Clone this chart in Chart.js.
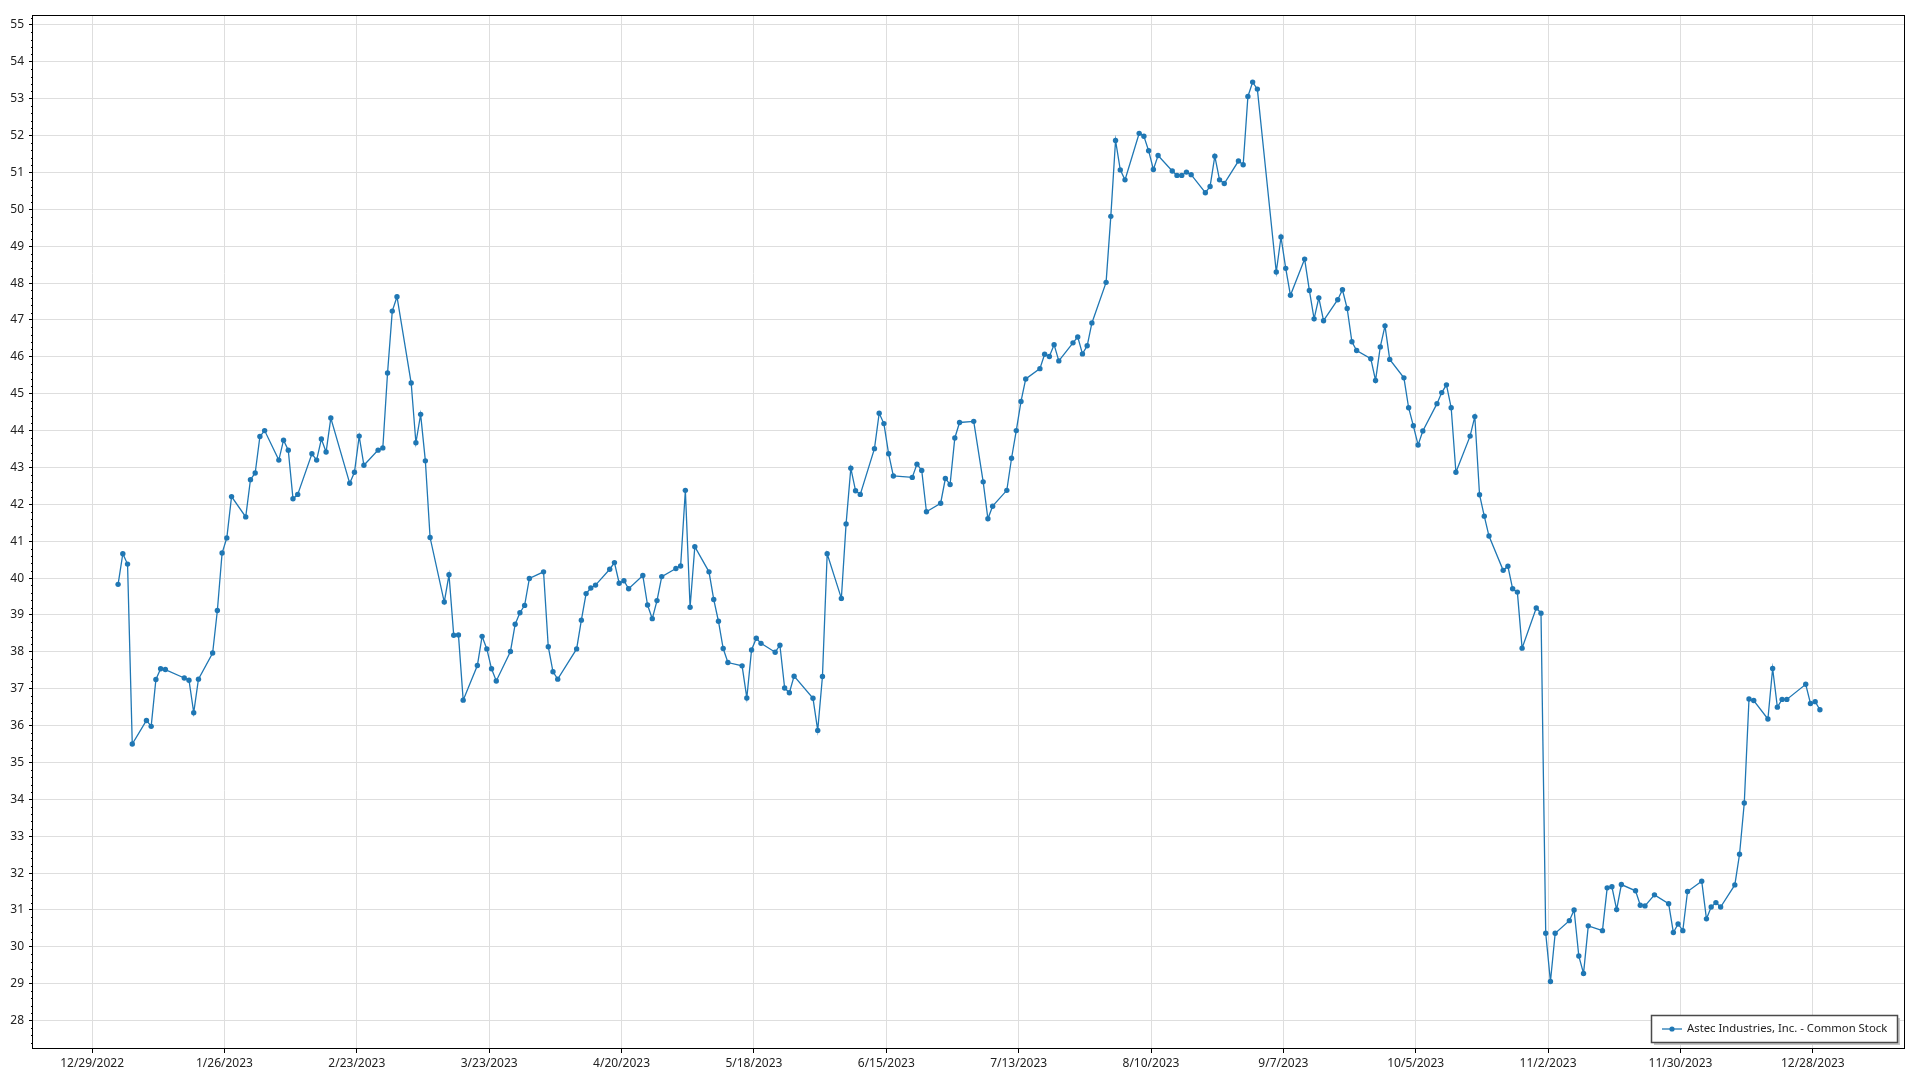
<!DOCTYPE html>
<html>
<head>
<meta charset="utf-8">
<title>Astec Industries, Inc. - Common Stock</title>
<script src="https://cdn.jsdelivr.net/npm/chart.js@4.4.1/dist/chart.umd.min.js"></script>
<style>
  html, body { margin: 0; padding: 0; background: #fff; }
  #wrap { width: 1920px; height: 1080px; position: relative; }
</style>
</head>
<body>
<div id="wrap"><canvas id="chart"></canvas></div>
<script>
const seriesLabel = 'Astec Industries, Inc. - Common Stock';

// trading days of 2023 (MM-DD), one row per month
const tradingDays = [
  '01-03','01-04','01-05','01-06','01-09','01-10','01-11','01-12','01-13','01-17','01-18','01-19','01-20','01-23','01-24','01-25','01-26','01-27','01-30','01-31',
  '02-01','02-02','02-03','02-06','02-07','02-08','02-09','02-10','02-13','02-14','02-15','02-16','02-17','02-21','02-22','02-23','02-24','02-27','02-28',
  '03-01','03-02','03-03','03-06','03-07','03-08','03-09','03-10','03-13','03-14','03-15','03-16','03-17','03-20','03-21','03-22','03-23','03-24','03-27','03-28','03-29','03-30','03-31',
  '04-03','04-04','04-05','04-06','04-10','04-11','04-12','04-13','04-14','04-17','04-18','04-19','04-20','04-21','04-24','04-25','04-26','04-27','04-28',
  '05-01','05-02','05-03','05-04','05-05','05-08','05-09','05-10','05-11','05-12','05-15','05-16','05-17','05-18','05-19','05-22','05-23','05-24','05-25','05-26','05-30','05-31',
  '06-01','06-02','06-05','06-06','06-07','06-08','06-09','06-12','06-13','06-14','06-15','06-16','06-20','06-21','06-22','06-23','06-26','06-27','06-28','06-29','06-30',
  '07-03','07-05','07-06','07-07','07-10','07-11','07-12','07-13','07-14','07-17','07-18','07-19','07-20','07-21','07-24','07-25','07-26','07-27','07-28','07-31',
  '08-01','08-02','08-03','08-04','08-07','08-08','08-09','08-10','08-11','08-14','08-15','08-16','08-17','08-18','08-21','08-22','08-23','08-24','08-25','08-28','08-29','08-30','08-31',
  '09-01','09-05','09-06','09-07','09-08','09-11','09-12','09-13','09-14','09-15','09-18','09-19','09-20','09-21','09-22','09-25','09-26','09-27','09-28','09-29',
  '10-02','10-03','10-04','10-05','10-06','10-09','10-10','10-11','10-12','10-13','10-16','10-17','10-18','10-19','10-20','10-23','10-24','10-25','10-26','10-27','10-30','10-31',
  '11-01','11-02','11-03','11-06','11-07','11-08','11-09','11-10','11-13','11-14','11-15','11-16','11-17','11-20','11-21','11-22','11-24','11-27','11-28','11-29','11-30',
  '12-01','12-04','12-05','12-06','12-07','12-08','12-11','12-12','12-13','12-14','12-15','12-18','12-19','12-20','12-21','12-22','12-26','12-27','12-28','12-29'
];

// closing prices, same order
const closePrices = [
  39.83, 40.66, 40.38, 35.50, 36.14, 35.98, 37.25, 37.54, 37.52, 37.29, 37.23, 36.35, 37.26, 37.97, 39.12, 40.68, 41.09, 42.21, 41.66, 42.67,
  42.85, 43.84, 44.00, 43.20, 43.74, 43.47, 42.15, 42.27, 43.37, 43.20, 43.77, 43.42, 44.34, 42.57, 42.87, 43.85, 43.06, 43.47, 43.53,
  45.56, 47.24, 47.63, 45.29, 43.67, 44.44, 43.18, 41.10, 39.35, 40.09, 38.45, 38.46, 36.69, 37.63, 38.42, 38.08, 37.54, 37.21, 38.01, 38.75, 39.06, 39.26, 39.99,
  40.17, 38.14, 37.46, 37.26, 38.08, 38.86, 39.58, 39.73, 39.81, 40.24, 40.42, 39.86, 39.93, 39.71, 40.07, 39.27, 38.90, 39.39, 40.04,
  40.26, 40.33, 42.38, 39.21, 40.85, 40.17, 39.42, 38.83, 38.09, 37.71, 37.62, 36.75, 38.05, 38.37, 38.23, 37.99, 38.18, 37.02, 36.89, 37.34, 36.74, 35.87,
  37.33, 40.66, 39.45, 41.47, 42.98, 42.37, 42.27, 43.51, 44.47, 44.19, 43.37, 42.77, 42.73, 43.09, 42.92, 41.80, 42.03, 42.70, 42.54, 43.80, 44.22,
  44.25, 42.61, 41.61, 41.95, 42.38, 43.25, 44.00, 44.79, 45.40, 45.68, 46.07, 46.01, 46.33, 45.89, 46.38, 46.54, 46.08, 46.30, 46.92, 48.02,
  49.81, 51.87, 51.07, 50.80, 52.06, 51.98, 51.59, 51.08, 51.46, 51.04, 50.92, 50.92, 51.01, 50.94, 50.45, 50.62, 51.44, 50.80, 50.70, 51.31, 51.21, 53.06, 53.45,
  53.26, 48.30, 49.25, 48.40, 47.67, 48.65, 47.80, 47.03, 47.60, 46.98, 47.55, 47.82, 47.31, 46.41, 46.17, 45.95, 45.36, 46.27, 46.84, 45.93,
  45.43, 44.62, 44.13, 43.61, 43.99, 44.73, 45.03, 45.24, 44.62, 42.87, 43.85, 44.38, 42.26, 41.68, 41.14, 40.21, 40.32, 39.71, 39.62, 38.10, 39.19, 39.05,
  30.37, 29.06, 30.37, 30.71, 31.00, 29.75, 29.28, 30.57, 30.44, 31.60, 31.63, 31.01, 31.69, 31.52, 31.13, 31.11, 31.41, 31.17, 30.39, 30.62, 30.44,
  31.50, 31.78, 30.76, 31.08, 31.20, 31.08, 31.68, 32.51, 33.90, 36.72, 36.68, 36.18, 37.55, 36.50, 36.71, 36.71, 37.12, 36.60, 36.65, 36.43
];

const tickDates = ['2022-12-29', '2023-01-26', '2023-02-23', '2023-03-23', '2023-04-20', '2023-05-18',
  '2023-06-15', '2023-07-13', '2023-08-10', '2023-09-07', '2023-10-05', '2023-11-02', '2023-11-30', '2023-12-28'];

const yMin = 27.23;
const yMax = 55.27;

const DAY = 864e5;
function dayNum(iso) {
  const [y, m, d] = iso.split('-').map(Number);
  return Date.UTC(y, m - 1, d) / DAY;
}
function fmtDay(v) {
  const d = new Date(Math.round(v) * DAY);
  return (d.getUTCMonth() + 1) + '/' + d.getUTCDate() + '/' + d.getUTCFullYear();
}

// quotes are stamped around midday
const points = tradingDays.map((md, i) => ({ x: dayNum('2023-' + md) + 0.5, y: closePrices[i] }));
const tickValues = tickDates.map(dayNum);
const xFirst = points[0].x, xLast = points[points.length - 1].x;
const xPad = (xLast - xFirst) * 0.05;

const lineColor = '#1f77b4';
const font = { family: "'Noto Sans', 'Open Sans', sans-serif", size: 12 };
const legendFont = `11.3px ${font.family}`;

const framePlugin = {
  id: 'frame',
  afterDraw(chart) {
    const { ctx, chartArea: a, scales: { y } } = chart;
    ctx.save();
    ctx.strokeStyle = '#000';
    ctx.lineWidth = 1;
    // minor ticks on the value axis
    ctx.beginPath();
    for (let i = Math.ceil(y.min * 5); i <= Math.floor(y.max * 5); i++) {
      if (i % 5 === 0) continue;
      const py = Math.round(y.getPixelForValue(i / 5)) + 0.5;
      ctx.moveTo(a.left - 2, py);
      ctx.lineTo(a.left, py);
    }
    ctx.stroke();
    // plot frame
    ctx.strokeRect(Math.round(a.left) - 0.5, Math.round(a.top) + 0.5,
      Math.round(a.right) - Math.round(a.left), Math.round(a.bottom) - Math.round(a.top) - 1);

    // legend box, bottom right inside the plot
    ctx.font = legendFont;
    const tw = ctx.measureText(seriesLabel).width;
    const bw = Math.round(tw + 46), bh = 27;
    const bx = Math.round(a.right) - 8 - bw, by = Math.round(a.bottom) - 7 - bh;
    ctx.fillStyle = '#c8c8c8';
    ctx.fillRect(bx + 3, by + 3, bw, bh);
    ctx.fillStyle = '#fff';
    ctx.fillRect(bx, by, bw, bh);
    ctx.strokeStyle = '#4a4a4a';
    ctx.lineWidth = 1.5;
    ctx.strokeRect(bx + 0.5, by + 0.5, bw, bh);
    const my = by + bh / 2 + 0.5;
    ctx.strokeStyle = lineColor;
    ctx.lineWidth = 1.3;
    ctx.beginPath();
    ctx.moveTo(bx + 11, my);
    ctx.lineTo(bx + 31, my);
    ctx.stroke();
    ctx.fillStyle = lineColor;
    ctx.beginPath();
    ctx.arc(bx + 21, my, 2.6, 0, Math.PI * 2);
    ctx.fill();
    ctx.fillStyle = '#222';
    ctx.textBaseline = 'middle';
    ctx.fillText(seriesLabel, bx + 36, my);
    ctx.restore();
  }
};

new Chart(document.getElementById('chart'), {
  type: 'line',
  data: {
    datasets: [{
      label: seriesLabel,
      data: points,
      borderColor: lineColor,
      backgroundColor: lineColor,
      borderWidth: 1.3,
      pointRadius: 2.7,
      pointBorderWidth: 0,
      pointBackgroundColor: lineColor,
      tension: 0
    }]
  },
  options: {
    responsive: true,
    maintainAspectRatio: false,
    animation: false,
    layout: { padding: { top: 15, right: 15, left: 0, bottom: 0 } },
    plugins: { legend: { display: false }, tooltip: { enabled: false } },
    scales: {
      x: {
        type: 'linear',
        min: xFirst - xPad,
        max: xLast + xPad,
        afterBuildTicks: s => { s.ticks = tickValues.map(v => ({ value: v })); },
        afterFit: s => { s.height = 31; },
        ticks: { callback: v => fmtDay(v), color: '#222', font, padding: 3, maxRotation: 0, autoSkip: false },
        grid: { color: '#dedede', tickColor: '#000', tickLength: 4 },
        border: { display: false }
      },
      y: {
        min: yMin,
        max: yMax,
        afterFit: s => { s.width = 33; },
        ticks: { stepSize: 1, includeBounds: false, color: '#222', font, padding: 5 },
        grid: { color: '#dedede', tickColor: '#000', tickLength: 4 },
        border: { display: false }
      }
    }
  },
  plugins: [framePlugin]
});
</script>
</body>
</html>
